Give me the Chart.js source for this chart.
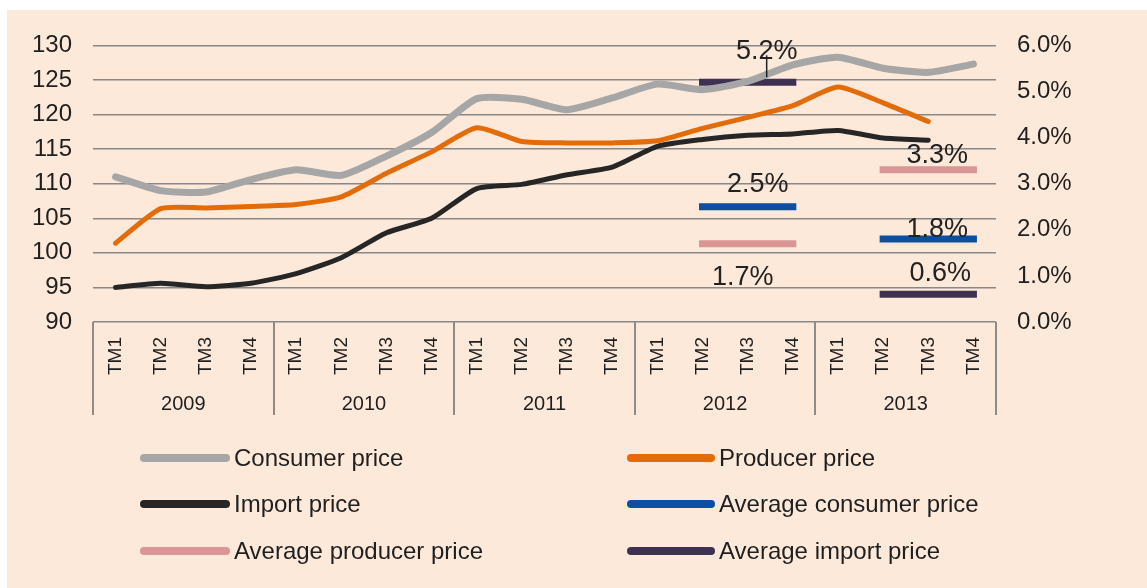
<!DOCTYPE html>
<html>
<head>
<meta charset="utf-8">
<script src="https://cdn.jsdelivr.net/npm/chart.js@4/dist/chart.umd.min.js"></script>
<style>
  html, body { margin: 0; background: #fff; }
  #wrap { position: absolute; left: 7px; top: 10px; width: 1140px; height: 578px; background: #fde9da; }
</style>
</head>
<body>
<div id="wrap"><canvas id="line-chart" width="1140" height="578"></canvas></div>
<script>
// data
var quarters = ['TM1', 'TM2', 'TM3', 'TM4'];
var years = ['2009', '2010', '2011', '2012', '2013'];

var consumerPrice = [111, 109, 108.8, 110.6, 112, 111.2, 114, 117.4, 122.3, 122.2,
  120.7, 122.4, 124.4, 123.6, 124.8, 127.2, 128.3, 126.7, 126.1, 127.3];
var producerPrice = [101.4, 106.4, 106.5, 106.7, 107, 108.1, 111.5, 114.6, 118.1, 116.1,
  115.9, 115.9, 116.2, 118, 119.6, 121.3, 124, 121.7, 119, null];
var importPrice = [95, 95.6, 95.1, 95.6, 97, 99.3, 102.9, 105, 109.3, 109.9,
  111.3, 112.4, 115.4, 116.4, 117, 117.2, 117.7, 116.6, 116.3, null];

// yearly averages in %, right axis
var avgYears = ['2012', '2013'];
var avgConsumerPrice = [2.5, 1.8];
var avgProducerPrice = [1.7, 3.3];
var avgImportPrice = [5.2, 0.6];

var FONT = '"Liberation Sans", Arial, sans-serif';
var TEXT = '#1f1f1f';

var labels = [];
years.forEach(function (y) {
  quarters.forEach(function (q) { labels.push(q); });
});

// average of a year is drawn across TM2..TM4 of that year
function averageLine(values) {
  var out = labels.map(function () { return null; });
  avgYears.forEach(function (y, i) {
    var base = years.indexOf(y) * 4;
    for (var q = 1; q < 4; q++) out[base + q] = values[i];
  });
  return out;
}

// [dx, dy] of each value label from the middle of its segment
var labelOffsets = [
  [[10, -22], [9, -9]],
  [[-5, 34], [9, -14]],
  [[19, -31], [12, -21]]
];

var avgLabels = {
  id: 'avgLabels',
  afterDatasetsDraw: function (chart) {
    var ctx = chart.ctx, x = chart.scales.x, yR = chart.scales.yR;
    ctx.save();
    ctx.font = '27px ' + FONT;
    ctx.fillStyle = '#222';
    ctx.textAlign = 'center';
    ctx.textBaseline = 'middle';
    for (var d = 3; d < 6; d++) {
      var ds = chart.data.datasets[d];
      avgYears.forEach(function (yr, i) {
        var idx = years.indexOf(yr) * 4 + 2;
        var v = ds.data[idx];
        var off = labelOffsets[d - 3][i];
        var px = x.getPixelForValue(idx) + off[0];
        var py = yR.getPixelForValue(v);
        ctx.fillText(v.toFixed(1) + '%', px, py + off[1]);
        if (d == 5 && i == 0) {
          ctx.strokeStyle = '#222';
          ctx.lineWidth = 1.5;
          ctx.beginPath();
          ctx.moveTo(px, py - 27);
          ctx.lineTo(px, py - 5);
          ctx.stroke();
        }
      });
    }
    ctx.restore();
  }
};

// boxes under the quarters, one per year
var yearBoxes = {
  id: 'yearBoxes',
  afterDraw: function (chart) {
    var ctx = chart.ctx, x = chart.scales.x, x2 = chart.scales.x2;
    var step = (x.right - x.left) / years.length;
    ctx.save();
    ctx.strokeStyle = '#8c8c8c';
    ctx.lineWidth = 2;
    for (var i = 0; i <= years.length; i++) {
      var px = Math.round(x.left + i * step);
      ctx.beginPath();
      ctx.moveTo(px, chart.chartArea.bottom);
      ctx.lineTo(px, x2.bottom);
      ctx.stroke();
    }
    ctx.restore();
  }
};

var twoColLegend = {
  id: 'twoColLegend',
  afterDraw: function (chart) {
    var ctx = chart.ctx;
    var cols = [[133, 223], [620, 708]];
    var rows = [448, 494, 541];
    ctx.save();
    ctx.font = '24px ' + FONT;
    ctx.textBaseline = 'middle';
    ctx.textAlign = 'left';
    chart.data.datasets.forEach(function (ds, i) {
      var c = cols[i % 2], y = rows[Math.floor(i / 2)];
      ctx.strokeStyle = ds.borderColor;
      ctx.lineWidth = 8;
      ctx.lineCap = 'round';
      ctx.beginPath();
      ctx.moveTo(c[0] + 4, y);
      ctx.lineTo(c[1] - 4, y);
      ctx.stroke();
      ctx.fillStyle = TEXT;
      ctx.fillText(ds.label, c[1] + 4, y + 1);
    });
    ctx.restore();
  }
};

function lineSet(label, data, color, width, axis) {
  return {
    label: label,
    data: data,
    borderColor: color,
    backgroundColor: color,
    borderWidth: width,
    pointRadius: 0,
    pointHoverRadius: 0,
    tension: axis == 'y' ? 0.2 : 0,
    borderCapStyle: axis == 'y' ? 'round' : 'square',
    spanGaps: false,
    yAxisID: axis
  };
}

new Chart(document.getElementById('line-chart'), {
  type: 'line',
  data: {
    labels: labels,
    datasets: [
      lineSet('Consumer price', consumerPrice, '#a6a6a6', 7, 'y'),
      lineSet('Producer price', producerPrice, '#e36c09', 5, 'y'),
      lineSet('Import price', importPrice, '#262626', 5, 'y'),
      lineSet('Average consumer price', averageLine(avgConsumerPrice), '#0b4ea2', 7, 'yR'),
      lineSet('Average producer price', averageLine(avgProducerPrice), '#d99694', 7, 'yR'),
      lineSet('Average import price', averageLine(avgImportPrice), '#3f3151', 7, 'yR')
    ]
  },
  options: {
    responsive: false,
    animation: false,
    layout: { padding: { top: 32, left: 0, right: 0, bottom: 173 } },
    plugins: {
      legend: { display: false },
      title: { display: false },
      tooltip: { enabled: false }
    },
    scales: {
      x: {
        type: 'category',
        position: 'bottom',
        weight: 0,
        offset: true,
        grid: { display: false },
        border: { display: false },
        ticks: {
          autoSkip: false,
          minRotation: 90,
          maxRotation: 90,
          padding: 7,
          color: TEXT,
          font: { family: FONT, size: 19 }
        },
        afterFit: function (s) { s.height = 60; }
      },
      x2: {
        type: 'category',
        position: 'bottom',
        weight: 1,
        labels: years,
        offset: true,
        grid: { display: false },
        border: { display: false },
        ticks: { padding: 2, color: TEXT, font: { family: FONT, size: 20 } },
        afterFit: function (s) { s.height = 33; }
      },
      y: {
        position: 'left',
        min: 90,
        max: 130,
        ticks: { stepSize: 5, padding: 21, color: TEXT, font: { family: FONT, size: 24 } },
        grid: { color: '#888', lineWidth: 1.5, drawTicks: false },
        border: { display: false },
        afterFit: function (s) { s.width = 86; }
      },
      yR: {
        position: 'right',
        min: 0,
        max: 6,
        ticks: {
          stepSize: 1,
          padding: 21,
          color: TEXT,
          font: { family: FONT, size: 24 },
          callback: function (v) { return v.toFixed(1) + '%'; }
        },
        grid: { drawOnChartArea: false, drawTicks: false },
        border: { display: false },
        afterFit: function (s) { s.width = 151; }
      }
    }
  },
  plugins: [avgLabels, yearBoxes, twoColLegend]
});
</script>
</body>
</html>
